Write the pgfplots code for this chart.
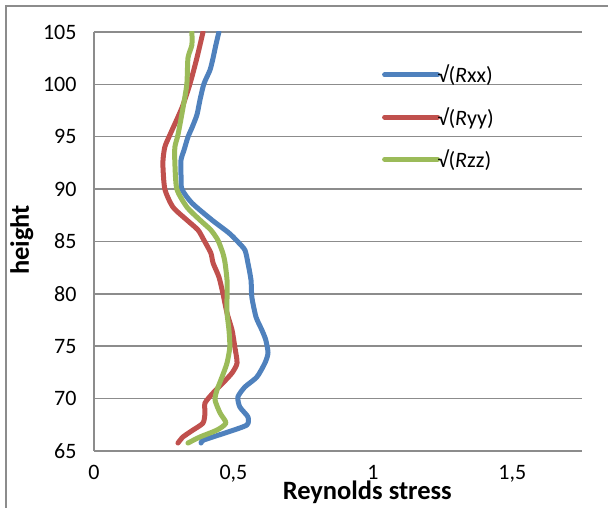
\documentclass[border=0pt]{standalone}
\usepackage{fontspec}
\setmainfont{Carlito}
\usepackage{pgfplots}
\pgfplotsset{compat=1.18}
\definecolor{xlblue}{HTML}{4F81BD}
\definecolor{xlred}{HTML}{C0504D}
\definecolor{xlgreen}{HTML}{9BBB59}
\definecolor{xlgrid}{HTML}{8C8C8C}
\begin{document}
\begin{tikzpicture}[x=1pt,y=1pt]
\useasboundingbox (0,0) rectangle (608,508);
\draw[xlgrid, line width=1.5pt] (6,0) -- (6,502) -- (608,502);
\begin{axis}[
at={(94pt,57pt)}, anchor=south west,
scale only axis,
width=488pt, height=419pt,
xmin=0, xmax=1.75,
ymin=65, ymax=105,
xtick={0,0.5,1,1.5},
ytick={65,70,...,105},
axis x line*=bottom,
axis y line*=left,
axis line style={xlgrid, line width=1.5pt},
major tick length=0pt,
ymajorgrids,
grid style={xlgrid, line width=1.5pt},
/pgf/number format/use comma,
/pgf/number format/assume math mode=true,
tick label style={font=\fontsize{22}{26}\selectfont, black},
xticklabel style={yshift=-11pt},
yticklabel style={xshift=-14pt},
xlabel={Reynolds stress},
ylabel={height},
label style={font=\fontsize{26.5}{31}\selectfont\bfseries},
xlabel style={at={(axis description cs:0.56,0)}, anchor=center, yshift=-41pt},
ylabel style={at={(axis description cs:-0.148,0.504)}, anchor=center},
legend style={draw=none, fill=none, at={(0.59,0.797)}, anchor=west,
  font=\fontsize{22}{26}\selectfont, row sep=19pt, column sep=-4pt,
  inner sep=0pt, cells={anchor=west}, nodes={inner xsep=1.5pt}},
legend image code/.code={\draw[#1] (0pt,0pt) -- (53pt,0pt);},
every axis plot/.append style={line width=5pt, line cap=round, line join=round, smooth, tension=0.4},
]
\addplot[xlblue] coordinates {
(0.384,65.76) (0.394,66.05) (0.480,66.81) (0.548,67.48) (0.552,68.25)
(0.523,69.20) (0.516,70.16) (0.541,71.11) (0.584,72.06) (0.613,73.40)
(0.624,74.36) (0.616,75.60) (0.602,76.55) (0.581,77.79) (0.566,79.70)
(0.563,81.32) (0.552,82.95) (0.541,84.19) (0.513,85.05) (0.484,85.81)
(0.423,87.05) (0.351,88.68) (0.315,90.01) (0.312,91.35) (0.312,92.78)
(0.323,93.74) (0.337,94.98) (0.351,95.84) (0.369,97.08) (0.380,98.51)
(0.394,100.04) (0.416,101.37) (0.427,102.52) (0.437,103.76) (0.448,105.0)
};
\addlegendentry{√(\textit{R}xx)}
\addplot[xlred] coordinates {
(0.301,65.76) (0.319,66.34) (0.355,67.00) (0.391,67.67) (0.398,68.63)
(0.398,69.58) (0.427,70.54) (0.462,71.49) (0.495,72.45) (0.513,73.40)
(0.505,74.93) (0.495,76.55) (0.477,78.17) (0.462,80.08) (0.448,81.61)
(0.427,82.95) (0.419,83.90) (0.394,85.14) (0.373,86.10) (0.333,87.05)
(0.283,88.29) (0.254,90.01) (0.247,92.49) (0.254,94.02) (0.272,95.17)
(0.315,97.74) (0.344,100.04) (0.369,102.52) (0.391,105.0)
};
\addlegendentry{√(\textit{R}yy)}
\addplot[xlgreen] coordinates {
(0.337,65.76) (0.380,66.34) (0.441,67.00) (0.473,67.67) (0.452,68.63)
(0.434,69.87) (0.441,70.82) (0.459,72.06) (0.477,73.40) (0.487,74.93)
(0.484,76.55) (0.477,78.17) (0.477,79.70) (0.477,81.32) (0.470,82.95)
(0.462,83.90) (0.444,85.14) (0.419,86.10) (0.380,87.05) (0.333,88.29)
(0.297,90.01) (0.290,92.49) (0.290,94.02) (0.301,95.17) (0.319,97.74)
(0.333,100.04) (0.337,102.52) (0.351,103.76) (0.351,105.0)
};
\addlegendentry{√(\textit{R}zz)}
\end{axis}
\end{tikzpicture}
\end{document}
